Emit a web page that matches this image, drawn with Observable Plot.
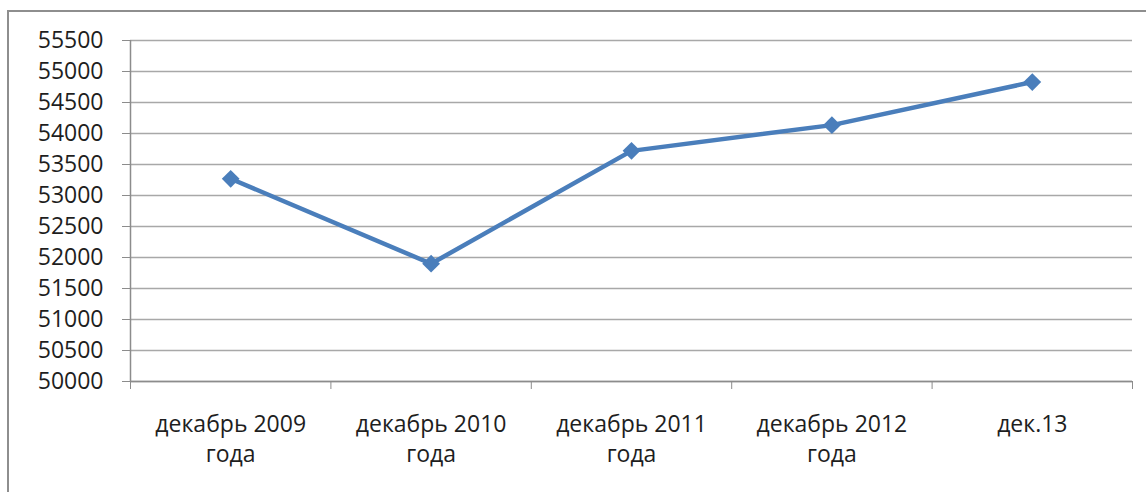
<!DOCTYPE html>
<html>
<head>
<meta charset="utf-8">
<script src="https://cdn.jsdelivr.net/npm/d3@7"></script>
<script src="https://cdn.jsdelivr.net/npm/@observablehq/plot@0.6"></script>
<style>
  html, body { margin: 0; padding: 0; background: #fff; overflow: hidden; }
  #wrap { position: relative; width: 1146px; height: 492px; }
  #frame {
    position: absolute; left: 7px; top: 10px; width: 1200px; height: 600px;
    border: 2px solid #8e8e8e; pointer-events: none;
  }
</style>
</head>
<body>
<div id="wrap"><div id="frame"></div></div>
<script>
// Month labels along the bottom axis
const categories = ["декабрь 2009\nгода", "декабрь 2010\nгода", "декабрь 2011\nгода", "декабрь 2012\nгода", "дек.13"];
// Series values, one per month
const values = [53270, 51900, 53720, 54135, 54830];
// Value-axis ticks
const yTicks = [50000, 50500, 51000, 51500, 52000, 52500, 53000, 53500, 54000, 54500, 55000, 55500];

const data = values.map((v, i) => ({i, v}));
const idx = categories.map((_, i) => i);
// Category boundaries (between neighbouring months)
const bounds = d3.range(-0.5, categories.length, 1);

const blue = "#4a7ebb";
const axisGray = "#8c8c8c";
const gridGray = "#a8a8a8";
const textColor = "#1e1e1e";

const chart = Plot.plot({
  width: 1146,
  height: 492,
  marginLeft: 130,
  marginRight: 14,
  marginTop: 40,
  marginBottom: 111,
  style: {fontFamily: "'Open Sans', sans-serif", background: "transparent", color: textColor},
  x: {type: "linear", domain: [-0.5, categories.length - 0.5]},
  y: {domain: [50000, 55500]},
  marks: [
    Plot.gridY(yTicks, {stroke: gridGray, strokeOpacity: 1, strokeWidth: 1.5}),
    Plot.axisY(yTicks, {
      tickSize: 8, tickPadding: 19, fontSize: 23,
      stroke: axisGray, fill: textColor,
      tickFormat: d => String(d), label: null
    }),
    Plot.ruleX([-0.5], {y1: 50000, y2: 55500, stroke: axisGray, strokeWidth: 1.5}),
    Plot.ruleY([50000], {stroke: axisGray, strokeWidth: 1.5}),
    Plot.axisX(bounds, {tickSize: 8, stroke: axisGray, tickFormat: () => "", label: null}),
    Plot.axisX(idx, {
      tickSize: 0, tickPadding: 29, fontSize: 23, lineHeight: 1.3,
      fill: textColor, tickFormat: i => categories[i], label: null
    }),
    Plot.line(data, {x: "i", y: "v", stroke: blue, strokeWidth: 4.5}),
    Plot.dot(data, {x: "i", y: "v", symbol: "diamond2", r: 8, fill: blue, stroke: "none"})
  ]
});

document.getElementById("wrap").prepend(chart);
chart.style.position = "absolute";
chart.style.left = "0";
chart.style.top = "0";
</script>
</body>
</html>
